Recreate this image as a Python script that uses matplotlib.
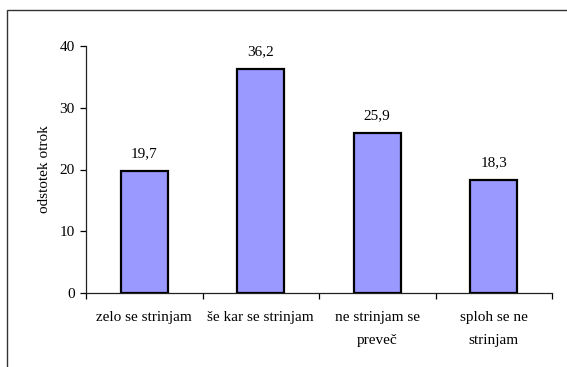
import matplotlib
matplotlib.use("Agg")
import matplotlib.pyplot as plt
import matplotlib.patches as mpatches
import numpy as np

categories = ["zelo se strinjam", "še kar se strinjam", "ne strinjam se\npreveč", "sploh se ne\nstrinjam"]
values = [19.7, 36.2, 25.9, 18.3]
value_labels = ["19,7", "36,2", "25,9", "18,3"]
yticks = [0, 10, 20, 30, 40]

plt.rcParams['font.family'] = ['Liberation Serif', 'DejaVu Serif']
FS = 11

fig = plt.figure(figsize=(5.67, 3.67), dpi=100)
ax = fig.add_axes([86/567, 1-293/367, (552-86)/567, (293-46)/367])

x = np.arange(len(categories))
ax.bar(x, values, width=0.4, color="#9999FF", edgecolor="black", linewidth=1.6, zorder=3)
for xi, v, lab in zip(x, values, value_labels):
    ax.annotate(lab, (xi, v), xytext=(0, 10), textcoords="offset points",
                ha="center", va="baseline", fontsize=FS)

ax.set_xlim(-0.5, len(categories) - 0.5)
ax.set_ylim(0, 40)
ax.set_yticks(yticks)
ax.set_yticklabels([str(t) for t in yticks], fontsize=FS)
ax.set_xticks(x)
ax.set_xticklabels(categories, fontsize=FS, linespacing=1.95)
ax.tick_params(axis="x", which="major", length=0, pad=13)
ax.set_xticks(np.arange(len(categories) + 1) - 0.5, minor=True)
ax.tick_params(axis="x", which="minor", length=4, width=0.9, direction="out")
ax.tick_params(axis="y", length=4, width=0.9, direction="out", pad=4)
for s in ["top", "right"]:
    ax.spines[s].set_visible(False)
for s in ["left", "bottom"]:
    ax.spines[s].set_linewidth(0.9)
    ax.spines[s].set_color("#222222")
ax.set_ylabel("odstotek otrok", fontsize=FS, labelpad=6)

border = mpatches.Rectangle((7/567, -0.1), 1.2, 1 - 10/367 + 0.1, transform=fig.transFigure,
                            fill=False, edgecolor="#333333", linewidth=1.0, clip_on=False)
fig.add_artist(border)

fig.savefig("out.png", dpi=100)
